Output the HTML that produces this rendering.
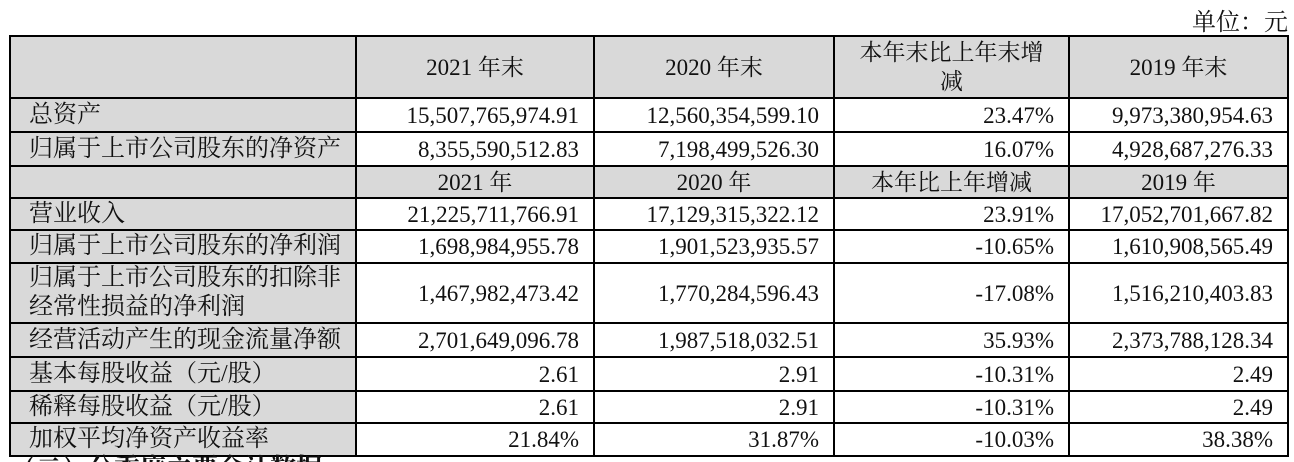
<!DOCTYPE html>
<html><head><meta charset="utf-8"><style>
html,body{margin:0;padding:0;background:#fff;width:1294px;height:462px;overflow:hidden;position:relative}
body{font-family:"Liberation Serif","Noto Serif CJK SC",serif;color:#111}
.unit{position:absolute;right:6px;top:2px;font-size:24px}
table{position:absolute;left:9px;top:35px;border-collapse:collapse;table-layout:fixed;font-size:23px}
td{border:2px solid #000;padding:0;line-height:29px}
td.l{text-align:left;padding-left:18px;background:#d9d9d9;font-size:24px}
td.n{text-align:right;padding-right:14px}
tr.h td{background:#d9d9d9;text-align:center}
.bot{position:absolute;left:10px;top:448px;font-size:26px;font-weight:bold;font-family:"Noto Serif CJK SC",serif}
</style></head><body>
<div class="unit">单位：元</div>
<table>
<colgroup><col style="width:346px"><col style="width:238px"><col style="width:240px"><col style="width:235px"><col style="width:219px"></colgroup>
<tr class="h" style="height:62px"><td></td><td>2021 年末</td><td>2020 年末</td><td>本年末比上年末增<br>减</td><td>2019 年末</td></tr>
<tr style="height:34px"><td class="l">总资产</td><td class="n">15,507,765,974.91</td><td class="n">12,560,354,599.10</td><td class="n">23.47%</td><td class="n">9,973,380,954.63</td></tr>
<tr style="height:34px"><td class="l">归属于上市公司股东的净资产</td><td class="n">8,355,590,512.83</td><td class="n">7,198,499,526.30</td><td class="n">16.07%</td><td class="n">4,928,687,276.33</td></tr>
<tr class="h" style="height:32px"><td></td><td>2021 年</td><td>2020 年</td><td>本年比上年增减</td><td>2019 年</td></tr>
<tr style="height:32px"><td class="l">营业收入</td><td class="n">21,225,711,766.91</td><td class="n">17,129,315,322.12</td><td class="n">23.91%</td><td class="n">17,052,701,667.82</td></tr>
<tr style="height:33px"><td class="l">归属于上市公司股东的净利润</td><td class="n">1,698,984,955.78</td><td class="n">1,901,523,935.57</td><td class="n">-10.65%</td><td class="n">1,610,908,565.49</td></tr>
<tr style="height:60px"><td class="l">归属于上市公司股东的扣除非<br>经常性损益的净利润</td><td class="n">1,467,982,473.42</td><td class="n">1,770,284,596.43</td><td class="n">-17.08%</td><td class="n">1,516,210,403.83</td></tr>
<tr style="height:34px"><td class="l">经营活动产生的现金流量净额</td><td class="n">2,701,649,096.78</td><td class="n">1,987,518,032.51</td><td class="n">35.93%</td><td class="n">2,373,788,128.34</td></tr>
<tr style="height:34px"><td class="l">基本每股收益（元/股）</td><td class="n">2.61</td><td class="n">2.91</td><td class="n">-10.31%</td><td class="n">2.49</td></tr>
<tr style="height:32px"><td class="l">稀释每股收益（元/股）</td><td class="n">2.61</td><td class="n">2.91</td><td class="n">-10.31%</td><td class="n">2.49</td></tr>
<tr style="height:33px"><td class="l">加权平均净资产收益率</td><td class="n">21.84%</td><td class="n">31.87%</td><td class="n">-10.03%</td><td class="n">38.38%</td></tr>
</table>
<div class="bot">（二）分季度主要会计数据</div>
</body></html>
